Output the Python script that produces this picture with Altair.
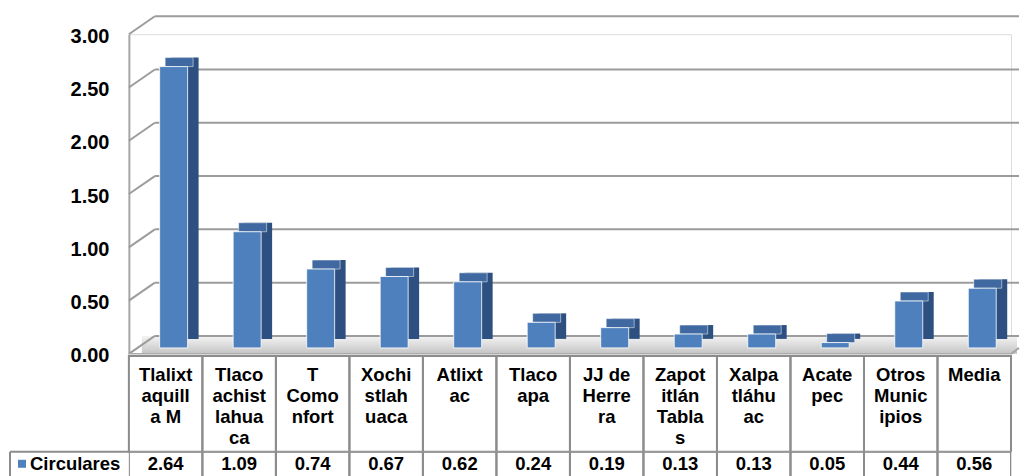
import altair as alt
import pandas as pd

# ---- data ----
categories = ["Tlalixtaquilla M", "Tlacoachistlahuaca", "T Comonfort", "Xochistlahuaca",
              "Atlixtac", "Tlacoapa", "JJ de Herrera", "Zapotitlán Tablas",
              "Xalpatláhuac", "Acatepec", "Otros Municipios", "Media"]
cell_labels = ["Tlalixt\naquill\na M", "Tlaco\nachist\nlahua\nca", "T\nComo\nnfort",
               "Xochi\nstlah\nuaca", "Atlixt\nac", "Tlaco\napa", "JJ de\nHerre\nra",
               "Zapot\nitlán\nTabla\ns", "Xalpa\ntláhu\nac", "Acate\npec",
               "Otros\nMunic\nipios", "Media"]
values = [2.64, 1.09, 0.74, 0.67, 0.62, 0.24, 0.19, 0.13, 0.13, 0.05, 0.44, 0.56]
series_name = "Circulares"
y_ticks = [0, 0.5, 1.0, 1.5, 2.0, 2.5, 3.0]

df = pd.DataFrame({"cat": categories, "label": cell_labels, "v": values})
ticks = pd.DataFrame({"v": y_ticks})
zero = pd.DataFrame({"v": [0.0]})

W = 883
H = 320
FONT = "Liberation Sans"
GRID = "#9C9C9C"
BORDER = "#8C8C8C"
FRONT = "#4E80BD"
SIDE = "#2E5080"
TOP = "#3F69A0"
TFS = 18.5

xband = alt.X("cat:N", sort=categories, scale=alt.Scale(paddingInner=0, paddingOuter=0), axis=None)
yq = alt.Y("v:Q", scale=alt.Scale(domain=[0, 3], nice=False),
           axis=alt.Axis(values=y_ticks, format=".2f", title=None, ticks=False, grid=False,
                         domain=True, domainColor="#A6A6A6", domainWidth=2,
                         labelFont=FONT, labelFontSize=20, labelFontWeight="bold",
                         labelColor="#000000", labelPadding=20, labelOffset=2))

floor = alt.Chart(zero).mark_rect(
    yOffset=-18, y2Offset=0,
    color=alt.Gradient(gradient="linear", x1=0, y1=0, x2=0, y2=1,
                       stops=[alt.GradientStop(color="#F4F4F4", offset=0),
                              alt.GradientStop(color="#C4C4C4", offset=1)])
).encode(x=alt.value(13), x2=alt.value(889), y=yq, y2="v")

back_grid = alt.Chart(ticks).mark_rule(color=GRID, strokeWidth=2, yOffset=-18).encode(
    x=alt.value(26), x2=alt.value(891), y="v:Q")

wall_diag = alt.Chart(ticks).mark_rule(color=GRID, strokeWidth=2, y2Offset=-18).encode(
    x=alt.value(0), x2=alt.value(26), y="v:Q", y2="v")

floor_front = alt.Chart(zero).mark_rule(color="#A6A6A6", strokeWidth=2).encode(
    x=alt.value(0), x2=alt.value(883), y="v:Q")
floor_right = alt.Chart(zero).mark_rule(color="#A6A6A6", strokeWidth=2, y2Offset=-6).encode(
    x=alt.value(883), x2=alt.value(891), y="v:Q", y2="v")

side = alt.Chart(df).mark_bar(color=SIDE, width=28, xOffset=19, yOffset=-15, y2Offset=-8).encode(
    x=xband, y="v:Q")
top_face = alt.Chart(df).mark_bar(color=TOP, width=28, xOffset=13.5, yOffset=-15, y2Offset=-6,
                                  stroke="white", strokeWidth=0.5).encode(
    x=xband, y="v:Q", y2="v")
front = alt.Chart(df).mark_bar(color=FRONT, width=28, xOffset=8, yOffset=-6, y2Offset=-6,
                               stroke="white", strokeWidth=0.8).encode(
    x=xband, y="v:Q")

plot = alt.layer(floor, back_grid, wall_diag, floor_front, floor_right, side, top_face, front
                 ).properties(width=W, height=H)

# ---- data table: header row ----
HH = 98
hdr_cells = alt.Chart(df).mark_rect(fillOpacity=0, stroke=BORDER, strokeWidth=2).encode(
    x=xband, y=alt.value(2), y2=alt.value(HH))
hdr_text = alt.Chart(df).mark_text(font=FONT, fontSize=TFS, fontWeight="bold", lineBreak="\n",
                                   lineHeight=21, baseline="top", align="center",
                                   color="#000000").encode(
    x=xband, y=alt.value(12), text="label:N")
header = alt.layer(hdr_cells, hdr_text).properties(width=W, height=HH)

# ---- data table: value row ----
VH = 25
val_cells = alt.Chart(df).mark_rect(fillOpacity=0, stroke=BORDER, strokeWidth=2, clip=True).encode(
    x=xband, y=alt.value(0), y2=alt.value(40))
val_text = alt.Chart(df).mark_text(font=FONT, fontSize=TFS, fontWeight="bold", baseline="middle",
                                   align="center", color="#000000", clip=True).encode(
    x=xband, y=alt.value(12), text=alt.Text("v:Q", format=".2f"))
name_df = pd.DataFrame({"name": [series_name]})
name_top = alt.Chart(name_df).mark_rule(color=BORDER, strokeWidth=2).encode(
    x=alt.value(-119), x2=alt.value(0), y=alt.value(0))
name_left = alt.Chart(name_df).mark_rule(color=BORDER, strokeWidth=2).encode(
    x=alt.value(-119), y=alt.value(0), y2=alt.value(VH))
name_sq = alt.Chart(name_df).mark_point(shape="square", filled=True, size=64, color="#4F81BD",
                                        opacity=1).encode(
    x=alt.value(-107), y=alt.value(12))
name_text = alt.Chart(name_df).mark_text(font=FONT, fontSize=TFS, fontWeight="bold",
                                         baseline="middle", align="left", color="#000000").encode(
    x=alt.value(-99), y=alt.value(12), text="name:N")
valrow = alt.layer(val_cells, val_text, name_top, name_left, name_sq, name_text
                   ).properties(width=W, height=VH)

chart = alt.vconcat(plot, header, valrow, spacing=0).properties(
    bounds="flush", padding={"left": 0, "top": 6, "right": 0, "bottom": 0}
).configure_view(stroke=None).configure(background="white")

chart.save("out.html", embed_options={"renderer": "svg", "actions": False})
